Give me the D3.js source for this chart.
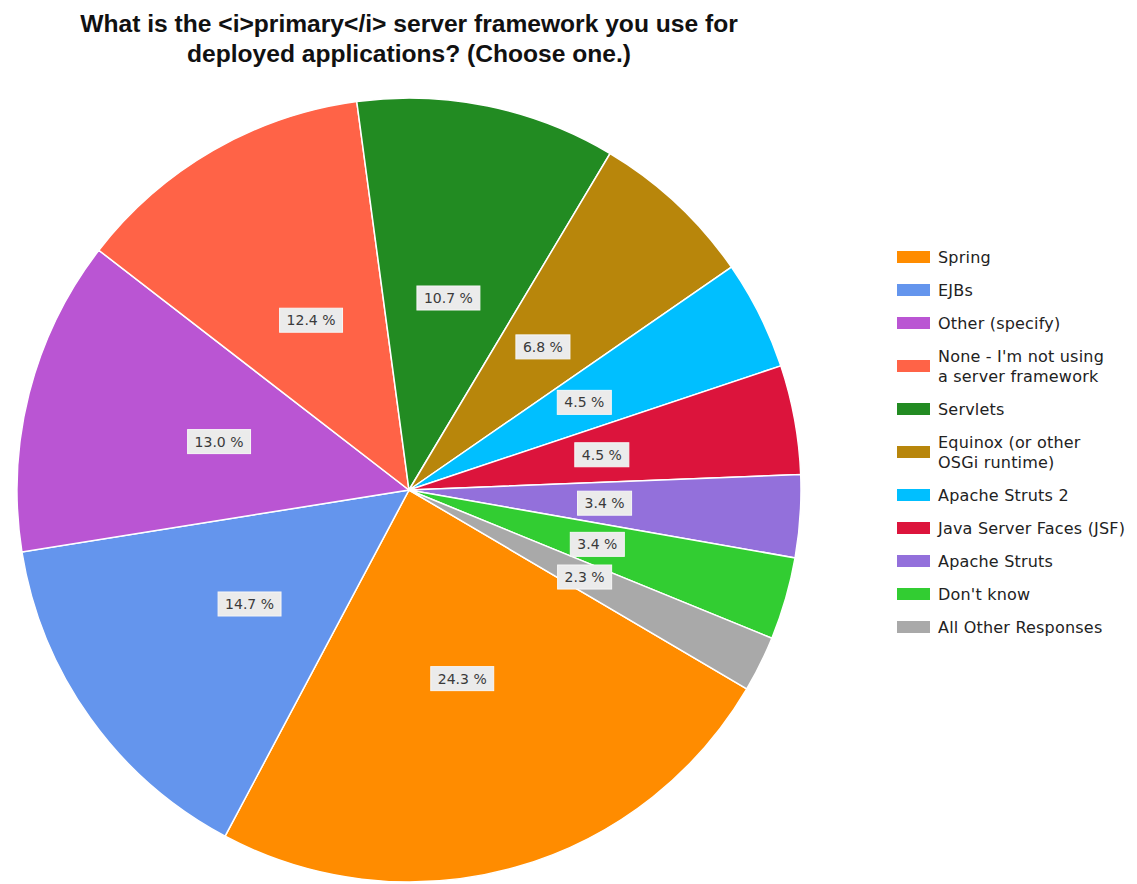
<!DOCTYPE html>
<html lang="en">
<head>
<meta charset="utf-8">
<title>Primary server framework</title>
<script src="https://d3js.org/d3.v7.min.js"></script>
<style>
  body { margin: 0; background: #fff; }
  svg { display: block; }
  .title { font-family: "Liberation Sans", Arial, sans-serif; font-weight: bold; fill: #111; }
  .lbl { font-family: "DejaVu Sans", sans-serif; font-size: 14px; fill: #3a3a3a; }
  .leg { font-family: "DejaVu Sans", sans-serif; font-size: 16px; fill: #222; letter-spacing: 0.2px; }
</style>
</head>
<body>
<script>
// chart data
var categories = ["Spring", "EJBs", "Other (specify)", "None - I'm not using\na server framework",
  "Servlets", "Equinox (or other\nOSGi runtime)", "Apache Struts 2", "Java Server Faces (JSF)",
  "Apache Struts", "Don't know", "All Other Responses"];
var values = [24.3, 14.7, 13.0, 12.4, 10.7, 6.8, 4.5, 4.5, 3.4, 3.4, 2.3];
var colors = ["#ff8c00", "#6495ed", "#ba55d3", "#ff6347", "#228b22", "#b8860b",
  "#00bfff", "#dc143c", "#9370db", "#32cd32", "#a9a9a9"];
var titleLines = ["What is the <i>primary</i> server framework you use for",
  "deployed applications? (Choose one.)"];

var width = 1137, height = 884;
var cx = 409, cy = 490, radius = 392;

var svg = d3.select("body").append("svg")
  .attr("width", width)
  .attr("height", height);

/** title */
svg.selectAll("text.title")
  .data(titleLines)
  .enter()
  .append("text")
  .attr("class", "title")
  .attr("x", 409)
  .attr("y", function(d, i){ return 32 + i * 30; })
  .attr("text-anchor", "middle")
  .style("font-size", "24.6px")
  .text(function(d){ return d; });

/** pie */
var pie = d3.pie()
  .sort(null)
  .value(function(d){ return d; })
  .startAngle(120.5 * Math.PI / 180)
  .endAngle(120.5 * Math.PI / 180 + 2 * Math.PI);

var arc = d3.arc().innerRadius(0).outerRadius(radius);
var labelArc = d3.arc().innerRadius(radius * 0.5).outerRadius(radius * 0.5);

var g = svg.append("g").attr("transform", "translate(" + cx + "," + cy + ")");
var arcs = pie(values);

g.selectAll("path")
  .data(arcs)
  .enter()
  .append("path")
  .attr("d", arc)
  .attr("fill", function(d, i){ return colors[i]; })
  .attr("stroke", "#fff")
  .attr("stroke-width", 1.5);

/** slice value labels with boxes */
var labels = g.selectAll("g.lab")
  .data(arcs)
  .enter()
  .append("g")
  .attr("class", "lab")
  .attr("transform", function(d){ return "translate(" + labelArc.centroid(d) + ")"; });

labels.append("rect")
  .attr("fill", "#ebebeb")
  .attr("stroke", "#f6f6f6")
  .attr("stroke-width", 1);

labels.append("text")
  .attr("class", "lbl")
  .attr("text-anchor", "middle")
  .attr("dy", "0.36em")
  .text(function(d){ return d.data.toFixed(1) + " %"; });

labels.each(function(){
  var t = d3.select(this).select("text").node();
  var w = t.getComputedTextLength() + 14;
  d3.select(this).select("rect")
    .attr("x", -w / 2).attr("y", -12)
    .attr("width", w).attr("height", 24);
});

/** legend */
var rowY = [257, 290, 323, 366, 409, 452, 495, 528, 561, 594, 627];
var legend = svg.selectAll("g.legrow")
  .data(categories)
  .enter()
  .append("g")
  .attr("class", "legrow")
  .attr("transform", function(d, i){ return "translate(897," + rowY[i] + ")"; });

legend.append("rect")
  .attr("x", 0).attr("y", -6)
  .attr("width", 33).attr("height", 12)
  .attr("fill", function(d, i){ return colors[i]; });

legend.each(function(d){
  var lines = d.split("\n");
  var t = d3.select(this).append("text")
    .attr("class", "leg")
    .attr("x", 41);
  lines.forEach(function(line, j){
    t.append("tspan")
      .attr("x", 41)
      .attr("y", (j - (lines.length - 1) / 2) * 20)
      .attr("dy", "0.36em")
      .text(line);
  });
});
</script>
</body>
</html>
